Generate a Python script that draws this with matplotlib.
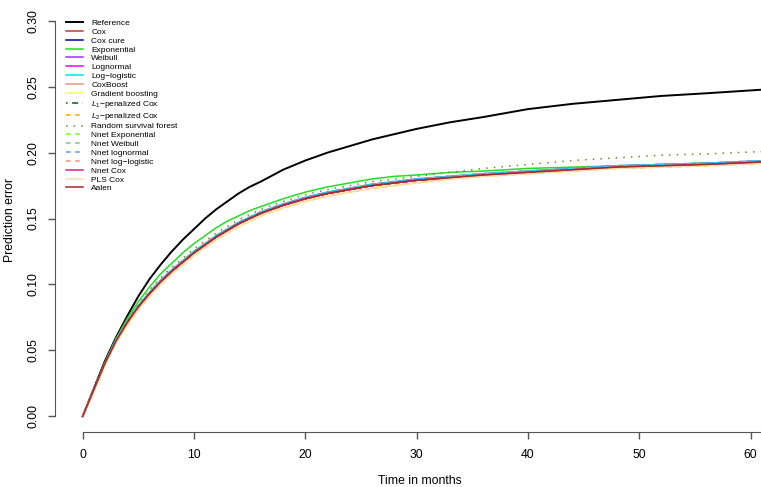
import matplotlib
matplotlib.use('Agg')
import matplotlib.pyplot as plt

plt.rcParams['font.family'] = ['Liberation Sans', 'DejaVu Sans']
plt.rcParams['mathtext.fontset'] = 'custom'
plt.rcParams['mathtext.rm'] = 'Liberation Sans'
plt.rcParams['mathtext.it'] = 'Liberation Sans:italic'

# time grid (months)
t = [0, 1, 2, 3, 4, 5, 6, 7, 8, 9, 10, 11, 12, 13, 14, 15, 16, 18, 20, 22,
     24, 26, 28, 30, 33, 36, 40, 44, 48, 52, 56, 61.5]

reference = [0, 0.021, 0.042, 0.060, 0.076, 0.091, 0.104, 0.115, 0.125, 0.134,
             0.142, 0.150, 0.157, 0.163, 0.169, 0.174, 0.178, 0.187, 0.194, 0.200,
             0.205, 0.210, 0.214, 0.218, 0.223, 0.227, 0.233, 0.237, 0.240, 0.243,
             0.245, 0.248]
exponential = [0, 0.020, 0.041, 0.059, 0.074, 0.087, 0.098, 0.108, 0.116, 0.124,
               0.131, 0.137, 0.143, 0.148, 0.152, 0.156, 0.159, 0.165, 0.170, 0.174,
               0.177, 0.180, 0.182, 0.183, 0.185, 0.186, 0.188, 0.189, 0.190, 0.191,
               0.192, 0.193]
rsf = [0, 0.020, 0.040, 0.058, 0.072, 0.085, 0.096, 0.105, 0.113, 0.120,
       0.127, 0.133, 0.139, 0.144, 0.149, 0.153, 0.157, 0.163, 0.168, 0.172,
       0.175, 0.178, 0.180, 0.182, 0.185, 0.188, 0.191, 0.194, 0.196, 0.198,
       0.199, 0.201]
band_high = [0, 0.020, 0.040, 0.058, 0.072, 0.084, 0.094, 0.103, 0.111, 0.118,
             0.125, 0.131, 0.137, 0.142, 0.147, 0.151, 0.155, 0.161, 0.166, 0.170,
             0.173, 0.176, 0.178, 0.180, 0.182, 0.184, 0.186, 0.188, 0.190, 0.191,
             0.192, 0.194]
band_mid = [0, 0.020, 0.040, 0.057, 0.071, 0.083, 0.093, 0.102, 0.110, 0.117,
            0.124, 0.130, 0.136, 0.141, 0.146, 0.150, 0.154, 0.160, 0.165, 0.169,
            0.172, 0.175, 0.177, 0.179, 0.181, 0.183, 0.185, 0.187, 0.189, 0.190,
            0.191, 0.193]
band_low = [0, 0.019, 0.039, 0.056, 0.069, 0.081, 0.091, 0.100, 0.108, 0.115,
            0.122, 0.128, 0.134, 0.139, 0.144, 0.148, 0.152, 0.158, 0.163, 0.167,
            0.170, 0.173, 0.175, 0.177, 0.180, 0.182, 0.184, 0.186, 0.188, 0.189,
            0.190, 0.192]

labels = ['Reference', 'Cox', 'Cox cure', 'Exponential', 'Weibull', 'Lognormal',
          'Log\u2212logistic', 'CoxBoost', 'Gradient boosting',
          '$L_1$\u2212penalized Cox', '$L_2$\u2212penalized Cox',
          'Random survival forest', 'Nnet Exponential', 'Nnet Weibull',
          'Nnet lognormal', 'Nnet log\u2212logistic', 'Nnet Cox', 'PLS Cox', 'Aalen']
series = [reference, band_mid, band_mid, exponential, band_high, band_mid,
          band_high, band_mid, band_low, band_mid, band_low, rsf, band_high,
          band_high, band_high, band_mid, band_mid, band_low, band_mid]
colors = ['black', '#C0392B', '#0000A0', '#22DD22', '#9B30FF', '#FF00FF',
          '#00E5EE', '#E9967A', '#FFFF55', '#006400', '#FFA500', '#6B8E23',
          '#7FFF00', '#8FBC8F', '#6495ED', '#E9967A', '#E0218A', '#F5DEB3',
          '#A52A2A']
styles = ['-', '-', '-', '-', '-', '-', '-', '-', '-', (0, (1, 3, 4, 3)),
          (0, (3, 3)), (0, (1, 4)), (0, (3, 3)), (0, (3, 3)), (0, (3, 3)),
          (0, (3, 3)), '-', '-', '-']
widths = [1.4] + [1.1] * 18

fig = plt.figure(figsize=(7.61, 4.87), dpi=100)
ax = fig.add_axes([55 / 761., 55 / 487., 706 / 761., 427 / 487.])

for s, lab, c, ls, lw in zip(series, labels, colors, styles, widths):
    ax.plot(t, s, color=c, linestyle=ls, linewidth=lw, label=lab)

ax.set_xlim(-2.49, 60.94)
ax.set_ylim(-0.012, 0.312)
ax.set_xticks([0, 10, 20, 30, 40, 50, 60])
ax.set_yticks([0.0, 0.05, 0.10, 0.15, 0.20, 0.25, 0.30])
ax.set_yticklabels(['0.00', '0.05', '0.10', '0.15', '0.20', '0.25', '0.30'],
                   rotation=90, va='center')
for side in ['top', 'right']:
    ax.spines[side].set_visible(False)
ax.spines['left'].set_bounds(0, 0.30)
ax.spines['bottom'].set_bounds(0, 60.94)
for side in ['left', 'bottom']:
    ax.spines[side].set_color('#555555')
ax.tick_params(length=5, width=1, color='#555555', labelsize=8.8)
ax.tick_params(axis='x', pad=7)
ax.tick_params(axis='y', pad=6)

fig.text(420 / 761., 1 - 481 / 487., 'Time in months', ha='center', va='center',
         fontsize=8.8)
fig.text(10 / 761., 1 - 220 / 487., 'Prediction error', ha='center', va='center',
         rotation=90, fontsize=8.8)

ax.legend(loc='upper left', bbox_to_anchor=(62 / 761., 1 - 15 / 487.),
          bbox_transform=fig.transFigure, frameon=False, fontsize=6.0,
          labelspacing=0.12, handlelength=2.0, handletextpad=1.0, borderpad=0)

fig.savefig('out.png', dpi=100)
